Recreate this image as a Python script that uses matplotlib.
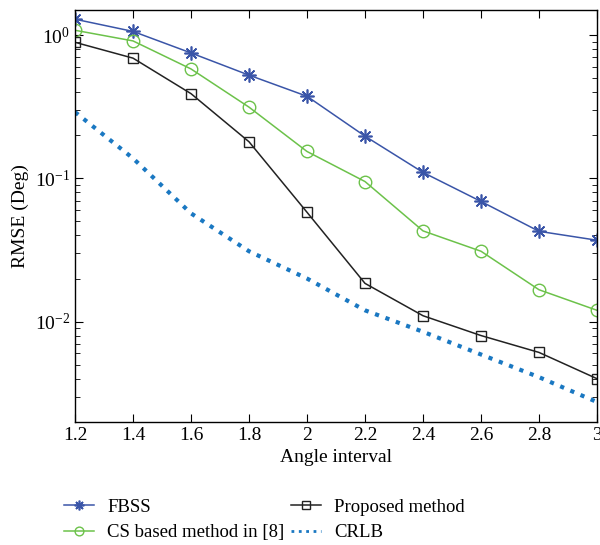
import matplotlib.pyplot as plt
from matplotlib.ticker import LogLocator, NullFormatter

plt.rcParams['font.family'] = ['Liberation Serif', 'DejaVu Serif']
plt.rcParams['mathtext.fontset'] = 'stix'

angle = [1.2, 1.4, 1.6, 1.8, 2.0, 2.2, 2.4, 2.6, 2.8, 3.0]
fbss = [1.29, 1.06, 0.75, 0.525, 0.374, 0.197, 0.110, 0.069, 0.0427, 0.037]
cs = [1.08, 0.91, 0.58, 0.314, 0.154, 0.095, 0.043, 0.031, 0.0167, 0.012]
proposed = [0.89, 0.69, 0.39, 0.18, 0.058, 0.0185, 0.011, 0.0080, 0.0061, 0.0040]
crlb = [0.29, 0.138, 0.057, 0.031, 0.020, 0.012, 0.0085, 0.0059, 0.0041, 0.00275]

fig = plt.figure(figsize=(6.0, 5.45), dpi=100)
ax = fig.add_axes([0.125, 0.226, 0.870, 0.756])

ax.plot(angle, fbss, color='#3a55a8', marker=(8, 2, 0), markersize=10, lw=1.1,
        markeredgewidth=1.2, label='FBSS')
ax.plot(angle, cs, color='#6cc24a', marker='o', markersize=9, lw=1.1,
        markerfacecolor='none', label='CS based method in [8]')
ax.plot(angle, proposed, color='#222222', marker='s', markersize=7.5, lw=1.1,
        markerfacecolor='none', label='Proposed method')
ax.plot(angle, crlb, color='#1a78c2', ls=':', lw=3, label='CRLB')

ax.set_yscale('log')
ax.set_xlim(1.2, 3.0)
ax.set_ylim(0.002, 1.5)
ax.set_xticks(angle)
ax.set_xticklabels(['1.2', '1.4', '1.6', '1.8', '2', '2.2', '2.4', '2.6', '2.8', '3'])
ax.yaxis.set_minor_locator(LogLocator(base=10, subs=range(2, 10)))
ax.yaxis.set_minor_formatter(NullFormatter())
ax.tick_params(which='both', direction='in', top=True, right=True, labelsize=14)
ax.tick_params(which='major', length=6)
ax.tick_params(which='minor', length=3.5)
for s in ax.spines.values():
    s.set_linewidth(1.0)

ax.set_xlabel('Angle interval', fontsize=14)
ax.set_ylabel('RMSE (Deg)', fontsize=14)

leg = ax.legend(loc='upper left', bbox_to_anchor=(-0.053, -0.145), ncol=2, frameon=False,
                fontsize=13.5, handlelength=1.6, handletextpad=0.7,
                columnspacing=0.35, labelspacing=0.45, markerscale=0.7)
leg.get_lines()[3].set_linewidth(2)

plt.savefig('out.png')
plt.close()
